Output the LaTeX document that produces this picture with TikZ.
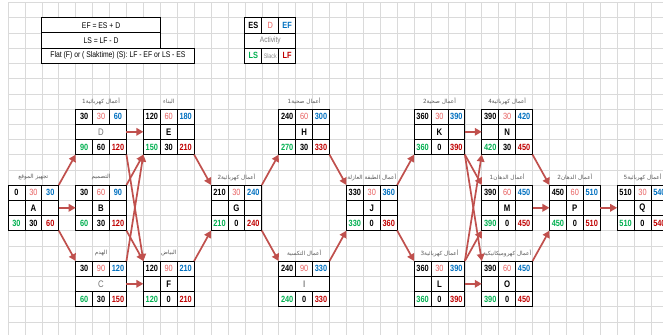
\documentclass[tikz,border=0pt]{standalone}
\usepackage{fontspec}
\setmainfont{Liberation Sans}[FakeStretch=0.82]
\newfontfamily\arabicfont[Script=Arabic]{DejaVu Sans}
\TeXXeTstate=1
\usetikzlibrary{arrows.meta}

\definecolor{gridgray}{RGB}{218,218,218}
\definecolor{durred}{RGB}{232,96,96}
\definecolor{efblue}{RGB}{0,112,192}
\definecolor{lsgreen}{RGB}{0,176,80}
\definecolor{lfred}{RGB}{192,0,0}
\definecolor{arrowred}{RGB}{192,80,77}
\definecolor{labelgray}{RGB}{90,90,90}

% activity box: [middle row lines]{name}{col}{row}{letter}{label}
\newcommand\actbox[6][cell]{%
  \node[actnode] (#2) at (#3,#4) {};
  \draw[cell] (#3,#4+1) -- (#3+3,#4+1) (#3,#4+2) -- (#3+3,#4+2)
    (#3+1,#4) -- (#3+1,#4+1) (#3+2,#4) -- (#3+2,#4+1)
    (#3+1,#4+2) -- (#3+1,#4+3) (#3+2,#4+2) -- (#3+2,#4+3);
  \draw[#1] (#3+1,#4+1) -- (#3+1,#4+2) (#3+2,#4+1) -- (#3+2,#4+2);
  \node[actletter] (#2-name) at (#3+1.5,#4+1.5) {#5};
  \if\relax\detokenize{#6}\relax\else
    \node[actlabel] (#2-label) at (#3+1.5,#4-0.5) {#6};
  \fi
}
% times: {name}{ES}{D}{EF}{LS}{slack}{LF}
\newcommand\nums[7]{%
  \node[num] (#1-es) at ([shift={(0.5,0.5)}]#1.north west) {\textbf{#2}};
  \node[num, text=durred] (#1-d) at ([shift={(1.5,0.5)}]#1.north west) {#3};
  \node[num, text=efblue] (#1-ef) at ([shift={(2.5,0.5)}]#1.north west) {\textbf{#4}};
  \node[num, text=lsgreen] (#1-ls) at ([shift={(0.5,2.5)}]#1.north west) {\textbf{#5}};
  \node[num] (#1-sl) at ([shift={(1.5,2.5)}]#1.north west) {\textbf{#6}};
  \node[num, text=lfred] (#1-lf) at ([shift={(2.5,2.5)}]#1.north west) {\textbf{#7}};
}

\begin{document}
\begin{tikzpicture}[x=16.92pt, y=-15.2pt,
    gridline/.style={draw=gridgray, line width=0.6pt},
    actnode/.style={draw, line width=1pt, fill=white, anchor=north west,
      inner sep=0pt, outer sep=0pt, minimum width=50.76pt, minimum height=45.6pt},
    cell/.style={line width=0.8pt},
    num/.style={font=\fontsize{9}{10}\selectfont, inner sep=0pt},
    actletter/.style={font=\fontsize{9.5}{10}\selectfont\bfseries, inner sep=0pt},
    actlabel/.style={font={\arabicfont\fontsize{5.7}{6}\selectfont}, text=labelgray, inner sep=0pt},
    formula/.style={draw, line width=1pt, fill=white, anchor=north west, inner sep=0pt,
      outer sep=0pt, minimum height=15.2pt, font=\fontsize{8.3}{9}\selectfont},
    arr/.style={-{Triangle[length=7pt, width=7.5pt]}, line width=1.7pt, arrowred}
  ]
  \useasboundingbox (-0.4728,-0.171) rectangle (38.711,21.868);
  \fill[white] (-0.4728,-0.171) rectangle (38.711,21.868);
  \clip (-0.4728,-0.171) rectangle (38.711,21.868);

  % sheet grid
  \foreach \i in {0,...,39} \draw[gridline] (\i,0) -- (\i,23);
  \foreach \j in {0,...,22} \draw[gridline] (0,\j) -- (40,\j);

  % formulas
  \node[formula, minimum width=118.44pt] (efrule) at (2,1) {EF = ES + D};
  \node[formula, minimum width=118.44pt] (lsrule) at (2,2) {LS = LF - D};
  \node[formula, minimum width=152.28pt] (slackrule) at (2,3)
    {Flat (F) or ( Slaktime) (S): LF - EF or LS - ES};

  % legend
  \actbox[draw=none]{leg}{14}{1}{\mdseries\fontsize{8}{9}\selectfont\color{black!50}Activity}{}
  \nums{leg}{ES}{D}{EF}{LS}{\mdseries\fontsize{6.5}{7}\selectfont\color{black!45}Slack}{LF}

  % activities
  \actbox{A}{0}{12}{A}{\beginR تجهيز الموقع\endR}
  \nums{A}{0}{30}{30}{30}{30}{60}
  \actbox[draw=none]{D}{4}{7}{\mdseries\color{black!55}D}{\beginR أعمال كهربائية1\endR}
  \nums{D}{30}{30}{60}{90}{60}{120}
  \actbox{B}{4}{12}{B}{\beginR التصميم\endR}
  \nums{B}{30}{60}{90}{60}{30}{120}
  \actbox[draw=none]{C}{4}{17}{\mdseries\color{black!55}C}{\beginR الهدم\endR}
  \nums{C}{30}{90}{120}{60}{30}{150}
  \actbox{E}{8}{7}{E}{\beginR البناء\endR}
  \nums{E}{120}{60}{180}{150}{30}{210}
  \actbox{F}{8}{17}{F}{\beginR البياض\endR}
  \nums{F}{120}{90}{210}{120}{0}{210}
  \actbox{G}{12}{12}{G}{\beginR أعمال كهربائية2\endR}
  \nums{G}{210}{30}{240}{210}{0}{240}
  \actbox{H}{16}{7}{H}{\beginR أعمال صحية1\endR}
  \nums{H}{240}{60}{300}{270}{30}{330}
  \actbox[draw=none]{I}{16}{17}{\mdseries\color{black!75}I}{\beginR أعمال التكسية\endR}
  \nums{I}{240}{90}{330}{240}{0}{330}
  \actbox{J}{20}{12}{J}{\beginR أعمال الطبقة العازلة\endR}
  \nums{J}{330}{30}{360}{330}{0}{360}
  \actbox{K}{24}{7}{K}{\beginR أعمال صحية2\endR}
  \nums{K}{360}{30}{390}{360}{0}{390}
  \actbox{L}{24}{17}{L}{\beginR أعمال كهربائية3\endR}
  \nums{L}{360}{30}{390}{360}{0}{390}
  \actbox{N}{28}{7}{N}{\beginR أعمال كهربائية4\endR}
  \nums{N}{390}{30}{420}{420}{30}{450}
  \actbox{M}{28}{12}{M}{\beginR أعمال الدهان1\endR}
  \nums{M}{390}{60}{450}{390}{0}{450}
  \actbox{O}{28}{17}{O}{\beginR أعمال كهروميكانيكية\endR}
  \nums{O}{390}{60}{450}{390}{0}{450}
  \actbox{P}{32}{12}{P}{\beginR أعمال الدهان2\endR}
  \nums{P}{450}{60}{510}{450}{0}{510}
  \actbox{Q}{36}{12}{Q}{\beginR أعمال كهربائية5\endR}
  \nums{Q}{510}{30}{540}{510}{0}{540}

  % precedence links
  \draw[arr] (A.north east) -- (D.south west);
  \draw[arr] (A.east) -- (B.west);
  \draw[arr] (A.south east) -- (C.north west);
  \draw[arr] (D.east) -- (E.west);
  \draw[arr] (D.south east) -- (F.north west);
  \draw[arr] (B.north east) -- (E.south west);
  \draw[arr] (B.south east) -- (F.north west);
  \draw[arr] (C.north east) -- (E.south west);
  \draw[arr] (C.east) -- (F.west);
  \draw[arr] (E.south east) -- (G.north west);
  \draw[arr] (F.north east) -- (G.south west);
  \draw[arr] (G.north east) -- (H.south west);
  \draw[arr] (G.south east) -- (I.north west);
  \draw[arr] (H.south east) -- (J.north west);
  \draw[arr] (I.north east) -- (J.south west);
  \draw[arr] (J.north east) -- (K.south west);
  \draw[arr] (J.south east) -- (L.north west);
  \draw[arr] (K.east) -- (N.west);
  \draw[arr] (K.south east) -- (M.north west);
  \draw[arr] (K.south east) -- (O.north west);
  \draw[arr] (L.north east) -- (N.south west);
  \draw[arr] (L.north east) -- (M.south west);
  \draw[arr] (L.east) -- (O.west);
  \draw[arr] (N.south east) -- (P.north west);
  \draw[arr] (M.east) -- (P.west);
  \draw[arr] (O.north east) -- (P.south west);
  \draw[arr] (P.east) -- (Q.west);
\end{tikzpicture}
\end{document}
